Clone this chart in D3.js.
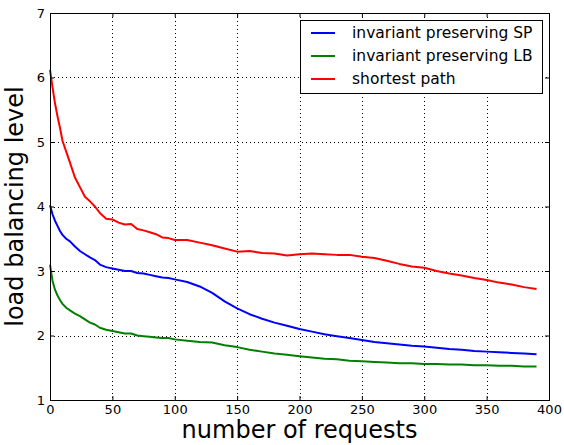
<!DOCTYPE html>
<html>
<head>
<meta charset="utf-8">
<script src="https://cdn.jsdelivr.net/npm/d3@7"></script>
<style>
  body { margin: 0; background: #fff; }
  text { font-family: "DejaVu Sans", sans-serif; fill: #000; }
</style>
</head>
<body>
<script>
// number of requests (x positions of samples)
var requests = [0,2,4,6,8,10,13,16,20,24,28,32,36,40,45,50,55,60,65,70,75,80,85,90,95,100,
                110,120,130,140,150,160,170,180,190,200,210,220,230,240,250,260,270,280,290,
                300,310,320,330,340,350,360,370,380,390];

// load balancing level per series
var invSP = [4.02,3.88,3.78,3.70,3.62,3.56,3.50,3.46,3.38,3.31,3.26,3.21,3.17,3.10,3.06,3.04,3.02,3.00,3.00,2.97,2.96,2.94,2.92,2.90,2.89,2.87,
             2.83,2.76,2.66,2.53,2.42,2.33,2.26,2.20,2.15,2.10,2.06,2.02,1.99,1.96,1.93,1.90,1.88,1.86,1.84,
             1.83,1.81,1.79,1.78,1.76,1.75,1.74,1.73,1.72,1.71];
var invLB = [3.10,2.85,2.71,2.62,2.55,2.49,2.43,2.39,2.34,2.30,2.25,2.20,2.17,2.12,2.09,2.07,2.05,2.03,2.03,2.00,1.99,1.98,1.97,1.96,1.96,1.94,
             1.92,1.90,1.89,1.85,1.82,1.78,1.75,1.72,1.70,1.68,1.66,1.64,1.63,1.61,1.60,1.59,1.58,1.57,1.57,
             1.56,1.56,1.55,1.55,1.54,1.54,1.53,1.53,1.52,1.52];
var shortest = [6.12,5.85,5.60,5.40,5.22,5.02,4.85,4.68,4.45,4.30,4.15,4.08,4.00,3.90,3.81,3.80,3.75,3.72,3.73,3.65,3.63,3.60,3.57,3.52,3.51,3.48,
                3.48,3.44,3.40,3.35,3.30,3.31,3.28,3.27,3.24,3.26,3.27,3.26,3.25,3.25,3.22,3.20,3.16,3.11,3.07,
                3.05,3.00,2.96,2.93,2.89,2.86,2.82,2.79,2.75,2.72];

var seriesNames = ["invariant preserving SP", "invariant preserving LB", "shortest path"];
var seriesCols = ["#0000ff", "#008000", "#ff0000"];
var seriesVals = [invSP, invLB, shortest];

var xTicks = [0,50,100,150,200,250,300,350,400];
var yTicks = [1,2,3,4,5,6,7];

var w = 564, h = 445;
var pdL = 50, pdR = 15, pdT = 13, pdB = 45;

var svg = d3.select("body").append("svg")
    .attr("width", w).attr("height", h);

var scaleX = d3.scaleLinear().domain([0, 400]).range([pdL, w - pdR]);
var scaleY = d3.scaleLinear().domain([1, 7]).range([h - pdB, pdT]);

// grid
var grid = svg.append("g").attr("class", "grid");
grid.selectAll(".gx").data(xTicks.slice(1, -1)).enter().append("line")
    .attr("x1", d => Math.round(scaleX(d)) + 0.5).attr("x2", d => Math.round(scaleX(d)) + 0.5)
    .attr("y1", pdT).attr("y2", h - pdB)
    .attr("stroke", "#000").attr("stroke-width", 1).attr("stroke-dasharray", "1,3");
grid.selectAll(".gy").data(yTicks.slice(1, -1)).enter().append("line")
    .attr("y1", d => Math.round(scaleY(d)) + 0.5).attr("y2", d => Math.round(scaleY(d)) + 0.5)
    .attr("x1", pdL).attr("x2", w - pdR)
    .attr("stroke", "#000").attr("stroke-width", 1).attr("stroke-dasharray", "1,3");

// lines
var line = d3.line()
    .x(function(d, i) { return scaleX(requests[i]); })
    .y(function(d) { return scaleY(d); });

seriesVals.forEach(function(vals, k) {
    svg.append("path")
       .datum(vals)
       .attr("d", line)
       .attr("fill", "none")
       .attr("stroke", seriesCols[k])
       .attr("stroke-width", 2)
       .attr("stroke-linejoin", "round");
});

// axes (ticks pointing inward, like matplotlib)
var axisB = d3.axisBottom(scaleX).tickValues(xTicks).tickSizeInner(-4).tickSizeOuter(0).tickPadding(5).tickFormat(d3.format("d"));
var axisL = d3.axisLeft(scaleY).tickValues(yTicks).tickSizeInner(-4).tickSizeOuter(0).tickPadding(5).tickFormat(d3.format("d"));
var axisT = d3.axisTop(scaleX).tickValues(xTicks).tickSizeInner(-4).tickSizeOuter(0).tickFormat("");
var axisR = d3.axisRight(scaleY).tickValues(yTicks).tickSizeInner(-4).tickSizeOuter(0).tickFormat("");

svg.append("g").attr("transform", "translate(0," + (h - pdB) + ")").call(axisB);
svg.append("g").attr("transform", "translate(" + pdL + ",0)").call(axisL);
svg.append("g").attr("transform", "translate(0," + pdT + ")").call(axisT);
svg.append("g").attr("transform", "translate(" + (w - pdR) + ",0)").call(axisR);

svg.selectAll(".domain").remove();
svg.selectAll(".tick line").attr("stroke", "#000");
svg.selectAll(".tick text").attr("font-size", 13).attr("font-family", "DejaVu Sans");

// frame
svg.append("rect")
   .attr("x", pdL + 0.5).attr("y", pdT + 0.5)
   .attr("width", w - pdL - pdR).attr("height", h - pdT - pdB)
   .attr("fill", "none").attr("stroke", "#000").attr("stroke-width", 1);

// axis labels
svg.append("text")
   .text("number of requests")
   .attr("x", (pdL + w - pdR) / 2).attr("y", 438)
   .attr("text-anchor", "middle").attr("font-size", 24);
svg.append("text")
   .text("load balancing level")
   .attr("transform", "translate(23," + ((pdT + h - pdB) / 2) + ") rotate(-90)")
   .attr("text-anchor", "middle").attr("font-size", 24);

// legend
var lg = svg.append("g").attr("transform", "translate(300,20)");
lg.append("rect")
  .attr("x", 0.5).attr("y", 0.5).attr("width", 242).attr("height", 73)
  .attr("fill", "#fff").attr("stroke", "#000").attr("stroke-width", 1);
seriesNames.forEach(function(name, k) {
    var yy = 13 + k * 23;
    lg.append("line")
      .attr("x1", 11).attr("x2", 35).attr("y1", yy).attr("y2", yy)
      .attr("stroke", seriesCols[k]).attr("stroke-width", 2);
    lg.append("text")
      .text(name)
      .attr("x", 52).attr("y", yy + 5)
      .attr("font-size", 15.5);
});
</script>
</body>
</html>
